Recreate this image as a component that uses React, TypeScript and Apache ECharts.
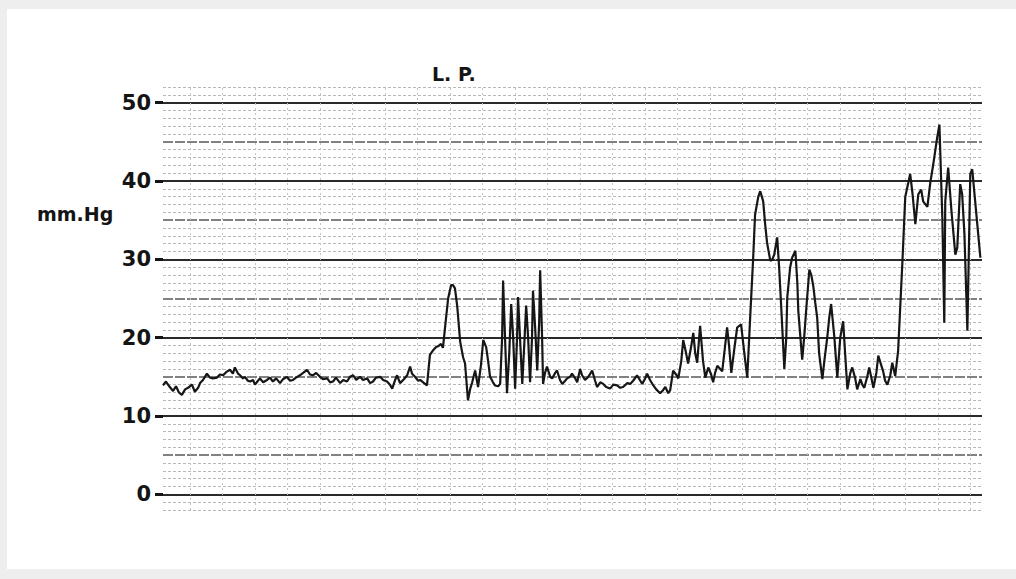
import React, { useEffect, useRef } from "react";
import * as echarts from "echarts";

// Time in seconds (vertical chart-paper lines every 10 s); pressure in mm.Hg
const TIME = [
  -8.3, -7.4, -6.2, -5.2, -4.3, -3.4, -2.5, -1.5, -0.6, 0.6, 1.5, 2.5, 3.1, 4.0, 5.2, 6.2, 7.1, 8.3, 9.2, 10.2,
  11.1, 12.3, 13.2, 13.8, 14.8, 15.4, 16.3, 16.9, 17.8, 18.5, 19.4, 20.0, 20.9, 21.5, 22.5, 23.7, 24.6, 25.5, 26.5, 27.7,
  28.6, 29.8, 30.8, 31.7, 32.6, 33.8, 34.8, 36.0, 36.9, 37.8, 38.8, 40.0, 40.9, 42.2, 43.1, 44.0, 44.9, 46.2, 47.1, 48.3,
  49.2, 50.2, 51.1, 52.3, 53.2, 54.5, 55.4, 56.3, 57.2, 58.5, 59.4, 60.6, 61.5, 62.2, 63.1, 63.7, 64.6, 65.8, 66.8, 67.7,
  68.3, 69.2, 70.2, 70.8, 72.0, 72.9, 73.8, 74.8, 75.7, 76.3, 77.2, 77.8, 78.5, 79.4, 80.3, 80.9, 81.5, 82.2, 83.1, 84.0,
  84.6, 85.5, 86.2, 86.8, 87.7, 88.6, 89.5, 90.2, 91.1, 91.7, 92.3, 93.2, 93.8, 94.8, 95.4, 96.0, 96.3, 96.9, 97.5, 98.2,
  98.8, 99.4, 100.0, 100.6, 100.9, 101.5, 102.2, 102.8, 103.4, 104.0, 104.6, 105.2, 105.5, 106.2, 106.8, 107.4, 107.7, 108.3, 108.6, 109.2,
  109.8, 110.8, 111.4, 112.3, 112.9, 113.8, 114.5, 115.4, 116.0, 116.9, 117.5, 118.5, 119.1, 120.0, 120.6, 121.5, 122.5, 123.7, 124.6, 125.2,
  126.2, 127.1, 128.0, 129.2, 130.2, 131.4, 132.3, 133.2, 134.5, 135.4, 136.3, 137.5, 138.5, 139.1, 140.0, 140.6, 141.5, 142.5, 143.4, 144.6,
  145.5, 146.2, 147.1, 147.7, 148.6, 149.5, 150.2, 151.1, 151.7, 152.6, 153.2, 154.2, 154.8, 155.4, 156.0, 156.9, 157.8, 158.5, 159.4, 160.3,
  160.9, 161.5, 162.2, 163.1, 163.7, 164.6, 165.2, 165.8, 166.5, 167.4, 168.3, 169.5, 170.5, 171.4, 172.3, 173.2, 173.8, 174.8, 175.4, 176.3,
  176.9, 177.5, 178.5, 179.1, 179.7, 180.6, 181.2, 181.8, 182.8, 183.4, 183.7, 184.6, 185.2, 186.2, 186.8, 187.1, 188.3, 188.9, 189.5, 190.5,
  191.1, 191.7, 192.3, 192.9, 193.5, 194.5, 195.1, 196.0, 196.6, 197.2, 198.2, 199.1, 200.0, 200.9, 201.5, 202.2, 203.1, 203.7, 204.6, 205.2,
  206.2, 206.8, 207.4, 208.3, 208.9, 209.5, 210.2, 211.1, 211.7, 212.6, 213.2, 213.8, 214.5, 215.4, 216.0, 216.9, 217.8, 219.1, 220.0, 220.9,
  221.5, 222.2, 223.1, 224.0, 224.9, 225.5, 226.8, 227.7, 228.6, 229.8, 230.5, 231.4, 232.0, 232.3, 233.2, 234.2, 235.4, 236.0, 236.9, 237.5,
  238.2, 239.1, 240.0, 240.6, 241.5, 243.1,
];

const PRESSURE = [
  13.9, 14.4, 13.7, 13.2, 13.8, 13.0, 12.7, 13.4, 13.6, 14.0, 13.1, 13.6, 14.2, 14.6, 15.4, 14.9, 14.8, 14.9, 15.3, 15.2,
  15.6, 15.9, 15.4, 16.2, 15.4, 15.2, 14.8, 15.0, 14.5, 14.4, 14.6, 14.0, 14.5, 14.8, 14.3, 14.6, 14.9, 14.4, 14.8, 14.2,
  14.7, 15.0, 14.5, 14.6, 14.9, 15.2, 15.5, 15.9, 15.3, 15.2, 15.5, 15.0, 14.7, 14.8, 14.3, 14.4, 14.9, 14.2, 14.6, 14.4,
  15.0, 15.2, 14.6, 15.0, 14.6, 14.8, 14.2, 14.4, 14.9, 15.0, 14.6, 14.4, 14.0, 13.5, 14.6, 15.2, 14.2, 14.7, 15.2, 16.3,
  15.4, 15.0, 14.5, 14.6, 14.2, 13.9, 17.8, 18.4, 18.8, 18.9, 19.2, 18.7, 21.5, 25.0, 26.7, 26.7, 26.3, 24.0, 19.5, 17.5,
  16.7, 12.0, 13.5, 14.3, 15.8, 13.7, 16.5, 19.7, 18.8, 17.0, 15.0, 14.3, 13.9, 13.8, 14.1, 20.0, 27.3, 20.0, 12.9, 18.0,
  24.3, 20.0, 13.5, 20.0, 25.2, 20.0, 14.1, 19.0, 24.1, 20.0, 14.3, 20.0, 26.0, 21.0, 15.8, 22.0, 28.6, 20.0, 14.1, 15.5,
  16.3, 15.0, 14.8, 15.5, 15.8, 14.6, 14.1, 14.5, 14.8, 15.0, 15.4, 14.8, 14.3, 16.0, 15.2, 14.6, 15.0, 15.8, 14.5, 13.7,
  14.3, 14.1, 13.7, 13.5, 14.0, 13.9, 13.6, 13.7, 14.2, 14.1, 14.5, 15.2, 14.5, 14.1, 14.8, 15.4, 14.6, 13.9, 13.4, 12.9,
  13.3, 13.7, 12.9, 13.3, 15.8, 15.3, 14.8, 17.0, 19.7, 18.0, 16.7, 19.0, 20.6, 18.0, 16.8, 21.5, 17.0, 14.9, 16.2, 15.3,
  14.3, 15.5, 16.4, 16.0, 15.7, 19.0, 21.3, 19.0, 15.5, 18.5, 21.3, 21.7, 18.0, 14.9, 22.6, 30.0, 35.7, 38.0, 38.7, 37.4,
  34.5, 32.1, 29.8, 30.0, 30.6, 32.8, 29.0, 24.3, 16.0, 20.0, 25.1, 29.0, 30.2, 31.1, 27.0, 23.4, 17.2, 20.0, 23.4, 28.7,
  28.0, 26.6, 24.5, 22.6, 18.0, 14.7, 17.0, 20.0, 22.5, 24.3, 20.0, 14.9, 20.0, 22.1, 18.0, 13.4, 15.5, 16.2, 14.8, 13.4,
  14.7, 14.0, 13.6, 15.0, 16.2, 15.0, 13.6, 15.5, 17.7, 16.5, 15.7, 14.5, 14.0, 15.2, 16.8, 15.1, 18.3, 29.5, 38.0, 39.7,
  40.9, 38.5, 34.5, 38.3, 38.9, 37.4, 36.7, 39.8, 42.1, 45.5, 47.2, 35.3, 21.9, 37.4, 41.7, 36.2, 30.6, 31.5, 39.6, 38.3,
  33.2, 20.9, 40.9, 41.5, 37.4, 30.2,
];

const Y_LABELS = [0, 10, 20, 30, 40, 50];
const Y_MIN = -2;
const Y_MAX = 52;
const X_MIN = -8.3;
const X_MAX = 243.6;
const X_GRID_STEP = 10;

export default function App() {
  const ref = useRef<HTMLDivElement>(null);

  useEffect(() => {
    if (!ref.current) return;
    const chart = echarts.init(ref.current, null, { renderer: "svg" });

    const gridLines: any[] = [];
    for (let v = Y_MIN; v <= Y_MAX; v++) {
      let lineStyle: any;
      if (v % 10 === 0) lineStyle = { color: "#2a2a2a", width: 2, type: "solid" };
      else if (v % 5 === 0) lineStyle = { color: "#585858", width: 1.5, type: [10, 2] };
      else lineStyle = { color: "#b8b8b8", width: 1, type: [3, 2] };
      gridLines.push({ yAxis: v, lineStyle });
    }
    for (let t = 0; t <= X_MAX; t += X_GRID_STEP) {
      gridLines.push({ xAxis: t, lineStyle: { color: "#c4c4c4", width: 1, type: [2, 3] } });
    }

    const data = TIME.map((t, i) => [t, PRESSURE[i]]);

    chart.setOption({
      animation: false,
      backgroundColor: "#eeeeee",
      graphic: [
        {
          type: "rect",
          z: -10,
          silent: true,
          shape: { x: 7, y: 9, width: 1009, height: 560 },
          style: { fill: "#ffffff" },
        },
        {
          type: "text",
          left: 37,
          top: 204,
          style: {
            text: "mm.Hg",
            fontSize: 19,
            fontWeight: "bold",
            fontFamily: "DejaVu Sans",
            fill: "#141414",
          },
        },
      ],
      title: {
        text: "L. P.",
        left: 427,
        top: 59,
        textStyle: { fontFamily: "DejaVu Sans", fontWeight: "bold", fontSize: 19, color: "#141414" },
      },
      grid: { left: 163, right: 34, top: 87, bottom: 69 },
      xAxis: { type: "value", min: X_MIN, max: X_MAX, show: false },
      yAxis: {
        type: "value",
        min: Y_MIN,
        max: Y_MAX,
        axisLine: { show: false, onZero: false },
        splitLine: { show: false },
        axisTick: {
          show: true,
          customValues: Y_LABELS,
          length: 8,
          lineStyle: { color: "#141414", width: 3 },
        },
        axisLabel: {
          customValues: Y_LABELS,
          fontSize: 21,
          fontWeight: "bold",
          fontFamily: "DejaVu Sans",
          color: "#141414",
          margin: 12,
        },
      },
      series: [
        {
          type: "line",
          name: "grid",
          data: [],
          z: 1,
          silent: true,
          markLine: {
            silent: true,
            symbol: "none",
            label: { show: false },
            animation: false,
            data: gridLines,
          },
        },
        {
          type: "line",
          name: "L. P.",
          data,
          z: 5,
          showSymbol: false,
          symbol: "none",
          lineStyle: { color: "#161616", width: 2.2 },
        },
      ],
    });

    return () => chart.dispose();
  }, []);

  return (
    <div
      ref={ref}
      style={{ position: "fixed", left: 0, top: 0, width: 1016, height: 579 }}
    />
  );
}
